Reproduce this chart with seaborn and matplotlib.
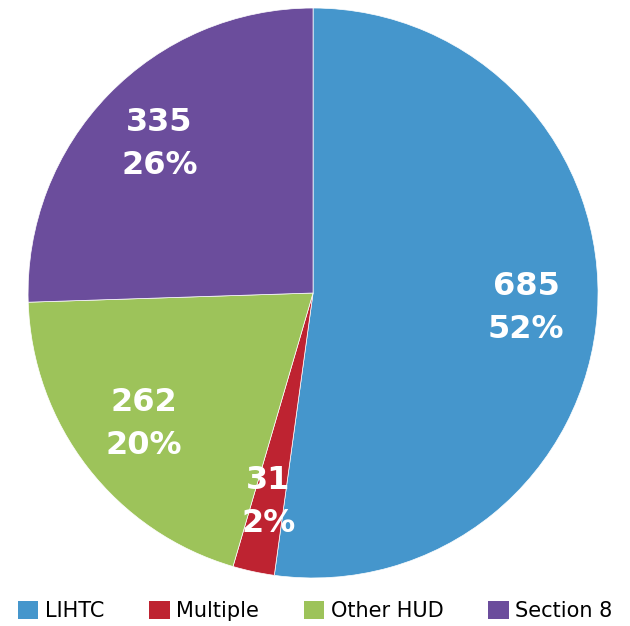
import matplotlib
matplotlib.use("Agg")
import matplotlib.pyplot as plt
import seaborn as sns
from matplotlib.patches import Patch

sns.set_theme(style="white")
plt.rcParams['font.family'] = ['DejaVu Sans']

categories = ["LIHTC", "Multiple", "Other HUD", "Section 8"]
counts = [685, 31, 262, 335]
colors = ["#4596CC", "#BE2331", "#9DC35A", "#6B4D9C"]
palette = sns.color_palette(colors)

fig = plt.figure(figsize=(6.3, 6.26), dpi=100)
ax = fig.add_axes([0.0444, 0.0767, 0.905, 0.9105])
total = sum(counts)

def fmt(p):
    v = int(round(p * total / 100.0))
    return f"{v}\n{p:.0f}%"

wedges, texts, autotexts = ax.pie(
    counts, colors=palette, startangle=90, counterclock=False,
    autopct=fmt, pctdistance=0.75,
    wedgeprops=dict(linewidth=0.5, edgecolor="white"),
    textprops=dict(color="white", fontsize=23, fontweight="bold", linespacing=1.5),
)
ax.set_xlim(-1, 1)
ax.set_ylim(-1, 1)
ax.set_aspect("equal")
ax.axis("off")

handles = [Patch(facecolor=c, edgecolor="none") for c in palette]
fig.legend(handles, categories, loc="lower center", bbox_to_anchor=(0.5, -0.022),
           ncol=4, frameon=False, fontsize=15, handlelength=1.0, handleheight=1.0,
           handletextpad=0.3, columnspacing=2.15, labelcolor="black")

fig.savefig("out.png", dpi=100)
